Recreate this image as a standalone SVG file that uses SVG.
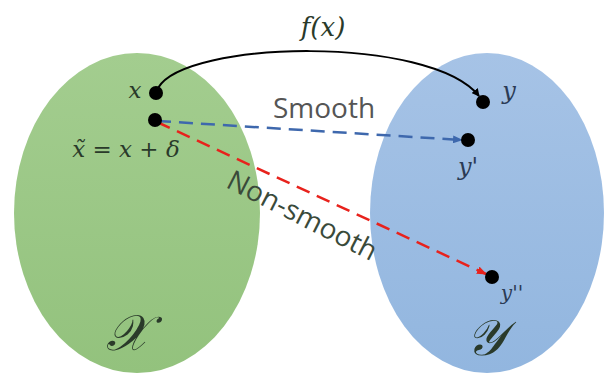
<svg xmlns="http://www.w3.org/2000/svg" width="604" height="375" viewBox="0 0 604 375">
<style>
.math{font-family:"DejaVu Serif",serif;font-style:italic;fill:#2a3a2a}
.lbl{font-family:"Open Sans","Noto Sans",sans-serif;fill:#555}
.dot{fill:#000}
</style>
<defs>
<linearGradient id="gg" x1="0" y1="0" x2="0" y2="1">
<stop offset="0" stop-color="#a3cd8f"/><stop offset="1" stop-color="#93c27d"/>
</linearGradient>
<linearGradient id="bg" x1="0" y1="0" x2="0" y2="1">
<stop offset="0" stop-color="#a6c3e6"/><stop offset="1" stop-color="#92b6df"/>
</linearGradient>
<marker id="ak" markerWidth="8" markerHeight="8" refX="7" refY="4" orient="auto" markerUnits="userSpaceOnUse"><path d="M0,0 L8,4 L0,8 z" fill="#000"/></marker>
<marker id="ab" markerWidth="10" markerHeight="8" refX="9" refY="4" orient="auto" markerUnits="userSpaceOnUse"><path d="M0,0 L10,4 L0,8 z" fill="#3e68ad"/></marker>
<marker id="ar" markerWidth="10" markerHeight="8" refX="9" refY="4" orient="auto" markerUnits="userSpaceOnUse"><path d="M0,0 L10,4 L0,8 z" fill="#e8221c"/></marker>
</defs>
<rect width="604" height="375" fill="#fff"/>
<g id="setX">
<ellipse cx="137" cy="213" rx="123" ry="160" fill="url(#gg)"/>
<text x="127" y="350" font-size="50" text-anchor="middle" class="math" fill="#1e2a1e">𝒳</text>
</g>
<g id="setY">
<ellipse cx="487" cy="213" rx="117" ry="160" fill="url(#bg)"/>
<text x="485" y="355" font-size="50" text-anchor="middle" class="math" fill="#1e2a3a">𝒴</text>
</g>
<g id="connectors">
<path d="M158 88 C185 40 430 35 479 96" fill="none" stroke="#000" stroke-width="2" marker-end="url(#ak)"/>
<path d="M157 121 L462 140" fill="none" stroke="#3e68ad" stroke-width="2.5" stroke-dasharray="14 8" marker-end="url(#ab)"/>
<path d="M157 122 L486 274" fill="none" stroke="#e8221c" stroke-width="2.5" stroke-dasharray="14 8" marker-end="url(#ar)"/>
<text x="324" y="118" font-size="28" text-anchor="middle" class="lbl">Smooth</text>
<text transform="translate(298 224) rotate(27)" font-size="28" text-anchor="middle" class="lbl" style="fill:#3a4a3a">Non-smooth</text>
<text x="323" y="36" font-size="26" text-anchor="middle" class="math" fill="#222">f(x)</text>
</g>
<g id="nx">
<circle cx="156" cy="93" r="7" class="dot"/>
<text x="135" y="98" font-size="23" text-anchor="middle" class="math">x</text>
</g>
<g id="nxt">
<circle cx="155" cy="120" r="7" class="dot"/>
<text x="126" y="157" font-size="23" text-anchor="middle" class="math">x̃ = x + δ</text>
</g>
<g id="ny">
<circle cx="483" cy="102" r="7" class="dot"/>
<text x="509" y="99" font-size="24" text-anchor="middle" class="math" style="fill:#2b3b55">y</text>
</g>
<g id="nyp">
<circle cx="468" cy="140" r="7" class="dot"/>
<text x="468" y="175" font-size="24" text-anchor="middle" class="math" style="fill:#2b3b55">y'</text>
</g>
<g id="nypp">
<circle cx="492" cy="277" r="7" class="dot"/>
<text x="512" y="300" font-size="20" text-anchor="middle" class="math" style="fill:#2b3b55">y''</text>
</g>
</svg>
